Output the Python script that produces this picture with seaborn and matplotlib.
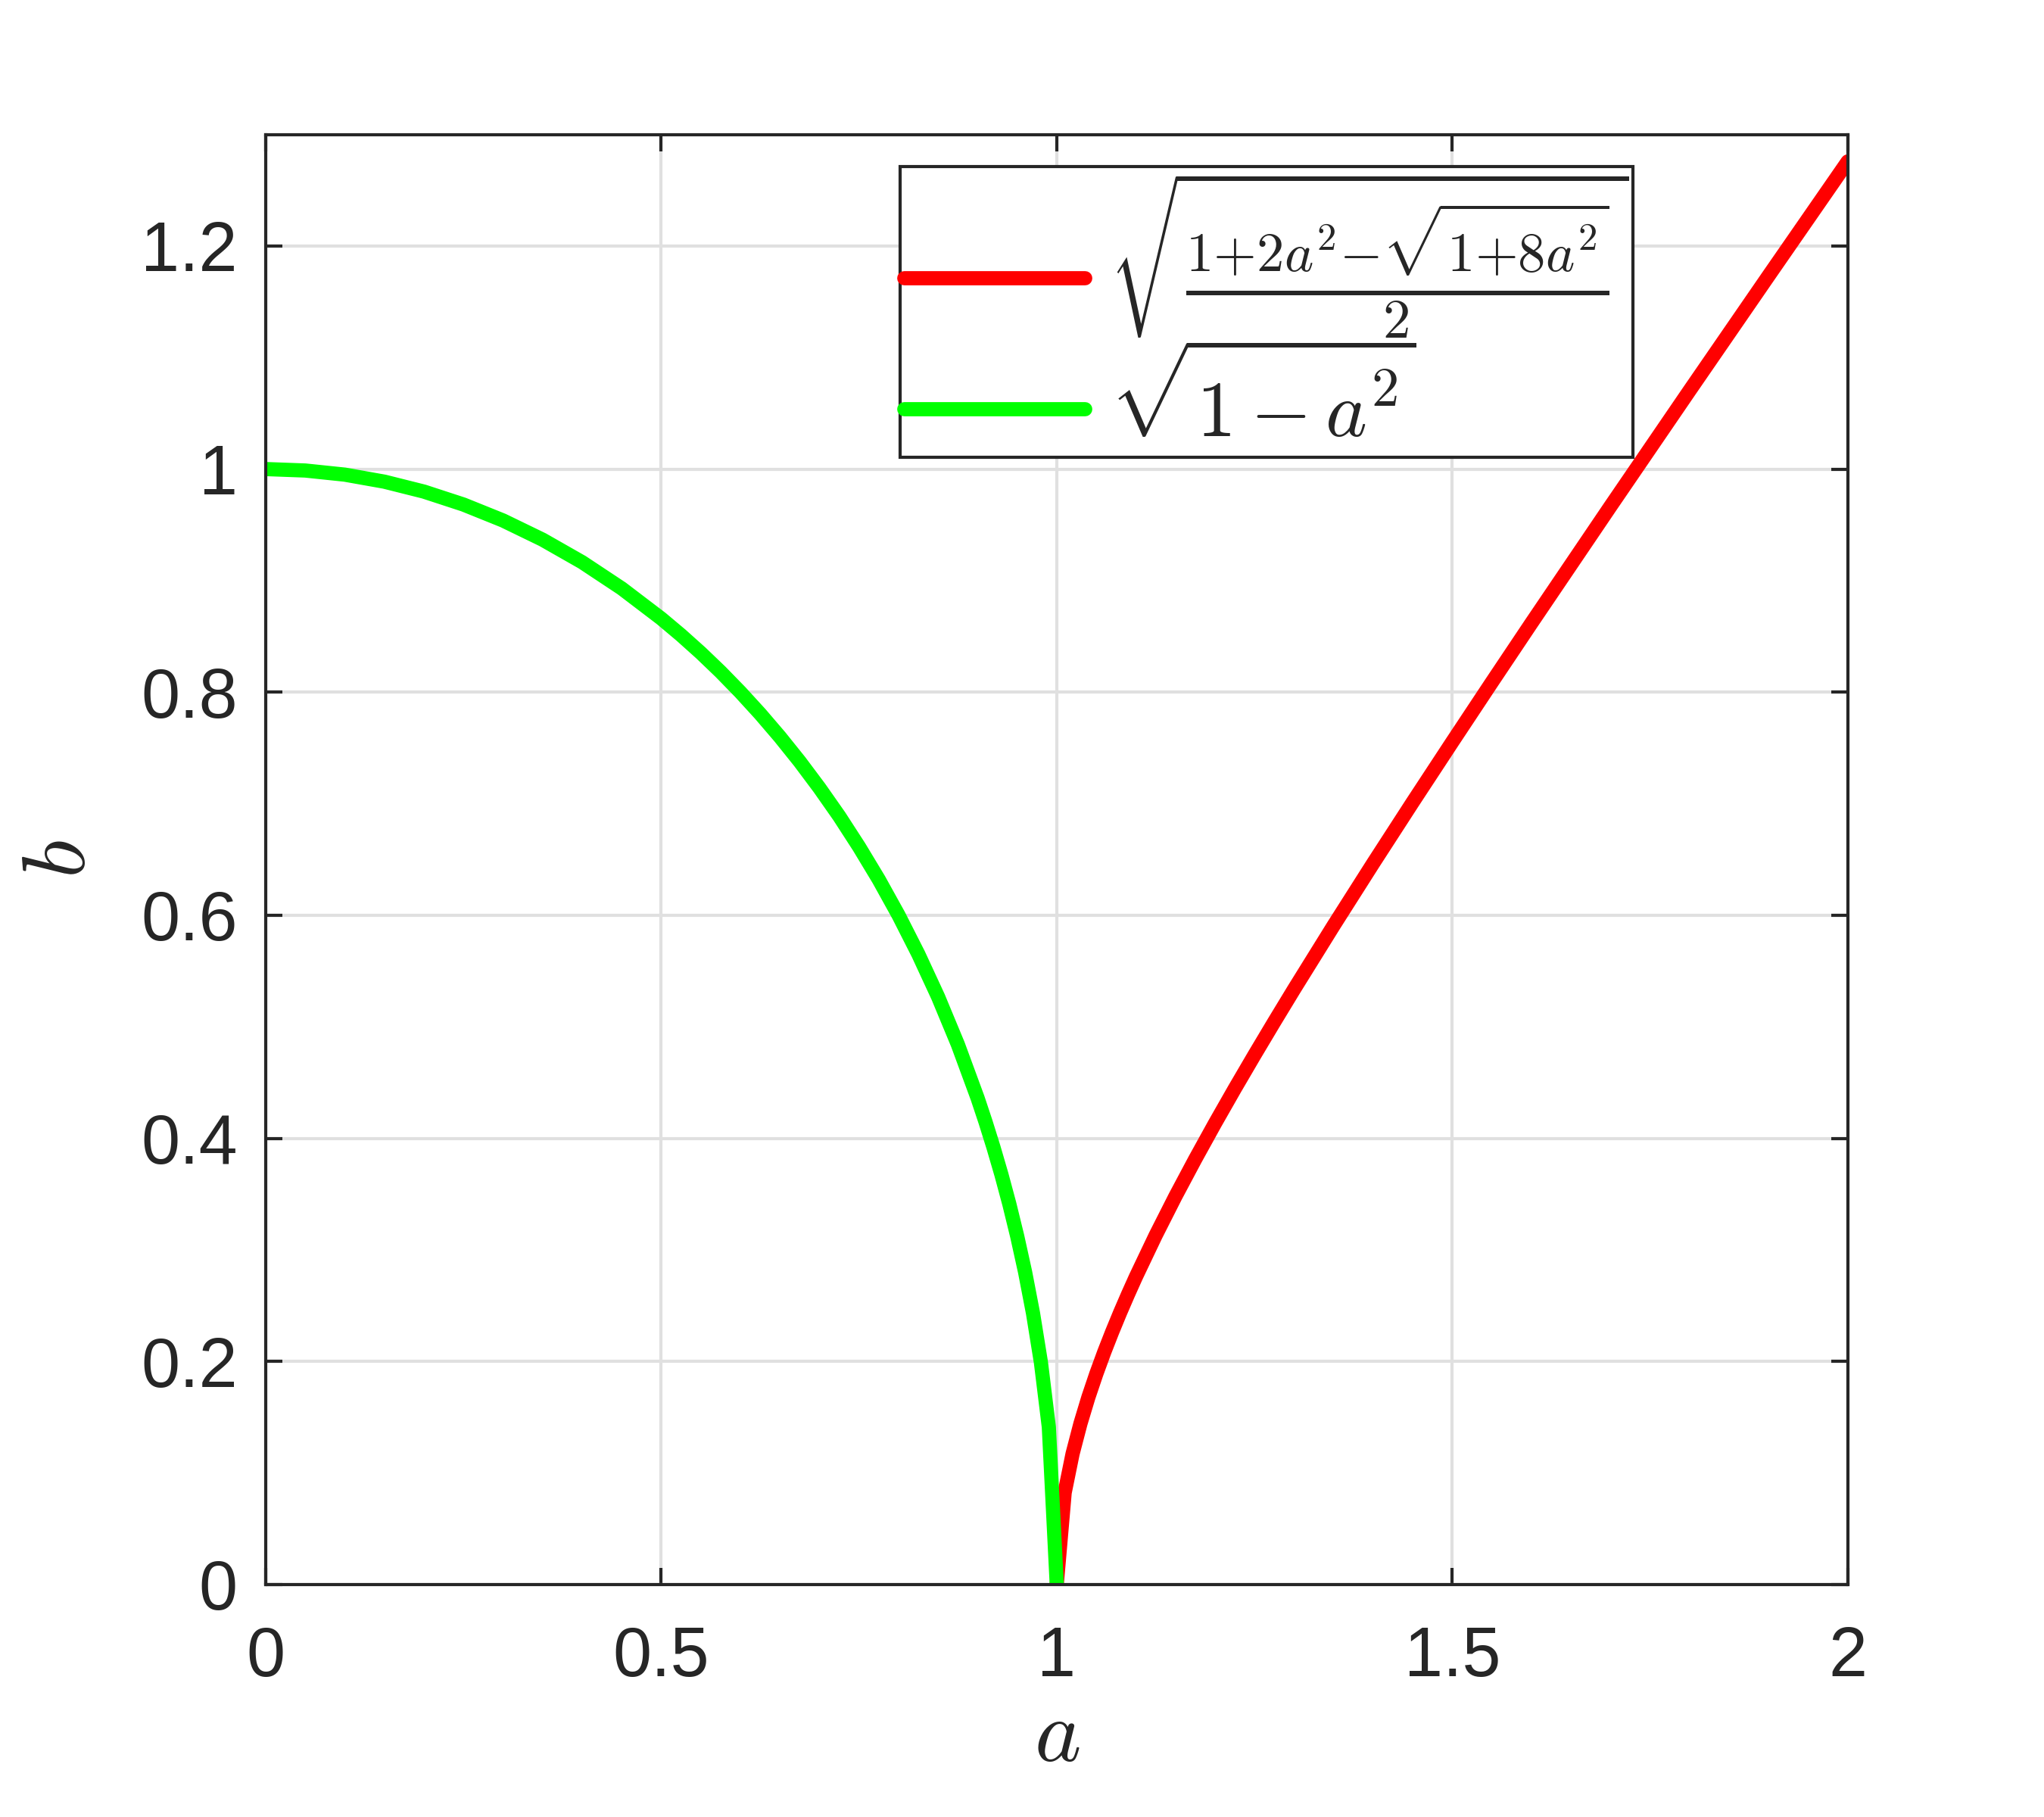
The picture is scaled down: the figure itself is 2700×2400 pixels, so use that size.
import matplotlib
matplotlib.use("Agg")
import matplotlib.pyplot as plt
import seaborn as sns
import pandas as pd

# Green curve samples
green_a = [0.0, 0.05, 0.1, 0.15, 0.2, 0.25, 0.3, 0.35, 0.4, 0.45, 0.5, 0.525, 0.55,
           0.575, 0.6, 0.625, 0.65, 0.675, 0.7, 0.725, 0.75, 0.775, 0.8, 0.825, 0.85,
           0.875, 0.9, 0.91, 0.92, 0.93, 0.94, 0.95, 0.96, 0.97, 0.98, 0.99, 1.0]
green_b = [1.0, 0.9987, 0.9950, 0.9887, 0.9798, 0.9682, 0.9539, 0.9367, 0.9165, 0.8930,
           0.8660, 0.8511, 0.8352, 0.8182, 0.8, 0.7806, 0.7599, 0.7378, 0.7141, 0.6888,
           0.6614, 0.6320, 0.6, 0.5651, 0.5268, 0.4841, 0.4359, 0.4146, 0.3919, 0.3676,
           0.3412, 0.3122, 0.2800, 0.2431, 0.1990, 0.1411, 0.0]

# Red curve samples
red_a = [1.0, 1.01, 1.02, 1.03, 1.04, 1.05, 1.06, 1.07, 1.08, 1.09, 1.1, 1.125, 1.15,
         1.175, 1.2, 1.225, 1.25, 1.275, 1.3, 1.35, 1.4, 1.45, 1.5, 1.55, 1.6, 1.7,
         1.8, 1.9, 2.0]
red_b = [0.0, 0.0822, 0.1171, 0.1443, 0.1678, 0.1888, 0.2082, 0.2263, 0.2435, 0.2599,
         0.2757, 0.3129, 0.3479, 0.3812, 0.4133, 0.4444, 0.4747, 0.5044, 0.5336, 0.5907,
         0.6465, 0.7013, 0.7553, 0.8088, 0.8618, 0.9666, 1.0704, 1.1734, 1.2758]

x_ticks = [0, 0.5, 1, 1.5, 2]
x_ticklabels = ["0", "0.5", "1", "1.5", "2"]
y_ticks = [0, 0.2, 0.4, 0.6, 0.8, 1.0, 1.2]
y_ticklabels = ["0", "0.2", "0.4", "0.6", "0.8", "1", "1.2"]

red_label = r"$\sqrt{\frac{1{+}2a^2{-}\sqrt{1{+}8a^2}}{2}}$"
green_label = r"$\sqrt{1-a^2}$"

sns.set_theme(style="white")
plt.rcParams["font.family"] = ["Liberation Sans", "DejaVu Sans"]
plt.rcParams["mathtext.fontset"] = "cm"

fig = plt.figure(figsize=(9, 8), dpi=300)
ax = fig.add_axes([0.130, 0.128, 0.774, 0.798])

df_red = pd.DataFrame({"a": red_a, "b": red_b})
df_green = pd.DataFrame({"a": green_a, "b": green_b})

sns.lineplot(data=df_red, x="a", y="b", ax=ax, color="#ff0000", linewidth=4.5,
             label=red_label, sort=False, estimator=None)
sns.lineplot(data=df_green, x="a", y="b", ax=ax, color="#00ff00", linewidth=4.5,
             label=green_label, sort=False, estimator=None)

ax.set_xlim(0, 2)
ax.set_ylim(0, 1.3)
ax.set_xticks(x_ticks)
ax.set_xticklabels(x_ticklabels)
ax.set_yticks(y_ticks)
ax.set_yticklabels(y_ticklabels)

ax.grid(True, color="#e0e0e0", linewidth=1.0)
ax.set_axisbelow(True)
for s in ax.spines.values():
    s.set_color("#262626")
    s.set_linewidth(1.0)
    s.set_visible(True)

ax.tick_params(axis="both", which="both", direction="in", length=5.2, width=1.0,
               colors="#262626", labelsize=22, top=True, right=True,
               bottom=True, left=True)
ax.tick_params(axis="x", pad=13)
ax.tick_params(axis="y", pad=9)

ax.set_xlabel(r"$a$", fontsize=28, color="#262626", labelpad=2)
ax.set_ylabel(r"$b$", fontsize=28, color="#262626", labelpad=12)

leg = ax.legend(loc="upper right", bbox_to_anchor=(0.864, 0.978), fontsize=25,
                frameon=True, fancybox=False, edgecolor="#262626",
                handlelength=2.3, handletextpad=0.3, borderpad=0.05,
                labelspacing=0.15, borderaxespad=0.0, framealpha=1)
leg.get_frame().set_linewidth(1.0)

fig.savefig("out.png", dpi=300, facecolor="white")
